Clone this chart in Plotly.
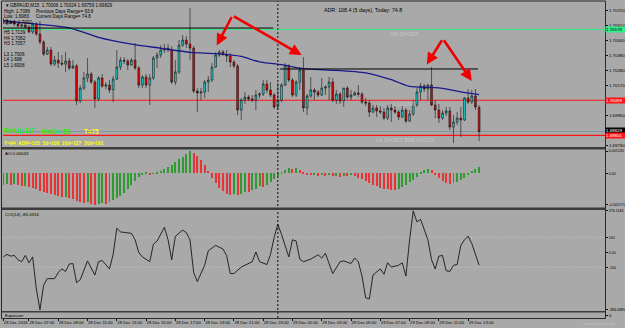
import plotly.graph_objects as go

W, H = 625, 328


def px(x):
    return x / W


def py(y):
    return 1 - y / H


# ---------------- data ----------------
bar_index = list(range(131))

open_ = [1.70632, 1.70647, 1.70625, 1.70639, 1.70617, 1.70603, 1.70610, 1.70595, 1.70559, 1.70617,
         1.70544, 1.70485, 1.70397, 1.70427, 1.70324, 1.70353, 1.70331, 1.70324, 1.70346, 1.70295,
         1.70310, 1.70053, 1.70148, 1.70222, 1.70251, 1.70192, 1.70068, 1.70222, 1.70163, 1.70170,
         1.70134, 1.70214, 1.70302, 1.70353, 1.70346, 1.70317, 1.70353, 1.70295, 1.70170, 1.70229,
         1.70170, 1.70222, 1.70368, 1.70390, 1.70427, 1.70441, 1.70427, 1.70192, 1.70266, 1.70463,
         1.70500, 1.70471, 1.70441, 1.70126, 1.70112, 1.70119, 1.70192, 1.70207, 1.70302, 1.70390,
         1.70412, 1.70397, 1.70383, 1.70339, 1.70310, 1.69987, 1.70060, 1.70082, 1.70068, 1.70060,
         1.70097, 1.70104, 1.70178, 1.70134, 1.70097, 1.70009, 1.70060, 1.70170, 1.70310, 1.70207,
         1.70097, 1.70192, 1.70280, 1.70002, 1.70090, 1.70134, 1.70119, 1.70097, 1.70148, 1.70156,
         1.70192, 1.70060, 1.70104, 1.70053, 1.70148, 1.70082, 1.70097, 1.70112, 1.70104, 1.70046,
         1.70038, 1.69972, 1.70002, 1.69980, 1.69972, 1.69928, 1.70002, 1.69987, 1.69972, 1.69936,
         1.69987, 1.69906, 1.69958, 1.70024, 1.70119, 1.70163, 1.70141, 1.70170, 1.70024, 1.69987,
         1.69928, 1.69965, 1.69980, 1.69862, 1.69899, 1.69928, 1.69914, 1.70075, 1.70046, 1.70090,
         1.70006]
close = [1.70647, 1.70625, 1.70639, 1.70617, 1.70603, 1.70610, 1.70595, 1.70559, 1.70617, 1.70544,
         1.70485, 1.70397, 1.70427, 1.70324, 1.70353, 1.70331, 1.70324, 1.70346, 1.70295, 1.70310,
         1.70053, 1.70148, 1.70222, 1.70251, 1.70192, 1.70068, 1.70222, 1.70163, 1.70170, 1.70134,
         1.70214, 1.70302, 1.70353, 1.70346, 1.70317, 1.70353, 1.70295, 1.70170, 1.70229, 1.70170,
         1.70222, 1.70368, 1.70390, 1.70427, 1.70441, 1.70427, 1.70192, 1.70266, 1.70463, 1.70500,
         1.70471, 1.70441, 1.70126, 1.70112, 1.70119, 1.70192, 1.70207, 1.70302, 1.70390, 1.70412,
         1.70397, 1.70383, 1.70339, 1.70310, 1.69987, 1.70060, 1.70082, 1.70068, 1.70060, 1.70097,
         1.70104, 1.70178, 1.70134, 1.70097, 1.70009, 1.70060, 1.70170, 1.70310, 1.70207, 1.70097,
         1.70192, 1.70280, 1.70002, 1.70090, 1.70134, 1.70119, 1.70097, 1.70148, 1.70156, 1.70192,
         1.70060, 1.70104, 1.70053, 1.70148, 1.70082, 1.70097, 1.70112, 1.70104, 1.70046, 1.70038,
         1.69972, 1.70002, 1.69980, 1.69972, 1.69928, 1.70002, 1.69987, 1.69972, 1.69936, 1.69987,
         1.69906, 1.69958, 1.70024, 1.70119, 1.70163, 1.70141, 1.70170, 1.70024, 1.69987, 1.69928,
         1.69965, 1.69980, 1.69862, 1.69899, 1.69928, 1.69914, 1.70075, 1.70046, 1.70090, 1.70009,
         1.69829]
high = [1.70661, 1.70654, 1.70647, 1.70647, 1.70632, 1.70617, 1.70625, 1.70610, 1.70632, 1.70632,
        1.70639, 1.70500, 1.70449, 1.70449, 1.70383, 1.70412, 1.70390, 1.70412, 1.70368, 1.70353,
        1.70324, 1.70170, 1.70266, 1.70368, 1.70266, 1.70207, 1.70236, 1.70251, 1.70192, 1.70207,
        1.70236, 1.70427, 1.70375, 1.70375, 1.70361, 1.70368, 1.70478, 1.70310, 1.70244, 1.70251,
        1.70251, 1.70383, 1.70412, 1.70463, 1.70471, 1.70471, 1.70456, 1.70353, 1.70500, 1.70537,
        1.70529, 1.70735, 1.70456, 1.70148, 1.70148, 1.70207, 1.70236, 1.70331, 1.70412, 1.70427,
        1.70427, 1.70427, 1.70405, 1.70353, 1.70324, 1.70075, 1.70119, 1.70097, 1.70097, 1.70134,
        1.70119, 1.70207, 1.70207, 1.70192, 1.70112, 1.70185, 1.70185, 1.70331, 1.70324, 1.70222,
        1.70207, 1.70302, 1.70375, 1.70104, 1.70229, 1.70148, 1.70134, 1.70222, 1.70170, 1.70229,
        1.70222, 1.70134, 1.70119, 1.70148, 1.70163, 1.70134, 1.70126, 1.70170, 1.70119, 1.70075,
        1.70060, 1.70024, 1.70024, 1.70016, 1.70002, 1.70024, 1.70031, 1.70016, 1.69987, 1.70016,
        1.70002, 1.69987, 1.70060, 1.70148, 1.70185, 1.70178, 1.70178, 1.70302, 1.70060, 1.70031,
        1.69987, 1.70009, 1.70009, 1.69950, 1.69972, 1.70009, 1.70082, 1.70141, 1.70134, 1.70141,
        1.70024]
low = [1.70617, 1.70610, 1.70617, 1.70603, 1.70595, 1.70588, 1.70581, 1.70551, 1.70544, 1.70529,
       1.70471, 1.70383, 1.70390, 1.70310, 1.70310, 1.70295, 1.70310, 1.70266, 1.70280, 1.70288,
       1.70024, 1.70038, 1.70134, 1.70192, 1.70178, 1.70002, 1.70053, 1.70148, 1.70141, 1.70112,
       1.70046, 1.70207, 1.70280, 1.70324, 1.70280, 1.70310, 1.70280, 1.70148, 1.70148, 1.70148,
       1.70024, 1.70207, 1.70295, 1.70368, 1.70405, 1.70412, 1.70178, 1.70170, 1.70251, 1.70449,
       1.70441, 1.70353, 1.70112, 1.69972, 1.70060, 1.70075, 1.70119, 1.70192, 1.70295, 1.70375,
       1.70383, 1.70339, 1.70302, 1.70295, 1.69950, 1.69914, 1.70031, 1.70053, 1.70046, 1.69987,
       1.70075, 1.70090, 1.70112, 1.70082, 1.69994, 1.69987, 1.70046, 1.70163, 1.70192, 1.70082,
       1.70082, 1.70134, 1.69972, 1.69950, 1.70075, 1.70060, 1.70082, 1.70090, 1.70097, 1.70060,
       1.70046, 1.70031, 1.70031, 1.70009, 1.70068, 1.70060, 1.70090, 1.70082, 1.70031, 1.70016,
       1.69936, 1.69965, 1.69936, 1.69958, 1.69914, 1.69914, 1.69899, 1.69958, 1.69914, 1.69928,
       1.69892, 1.69899, 1.69943, 1.70009, 1.70060, 1.70119, 1.70060, 1.70016, 1.69928, 1.69892,
       1.69914, 1.69943, 1.69840, 1.69745, 1.69877, 1.69789, 1.69906, 1.70031, 1.70031, 1.69987,
       1.69759]

ma_index = [0, 8, 18, 26, 35, 43, 51, 58, 65, 70, 76, 82, 89, 99, 106, 111, 119, 125, 130]
ma_value = [1.7064, 1.7062, 1.7059, 1.7052, 1.7047, 1.7044, 1.7041, 1.7040, 1.7038, 1.7034,
            1.7032, 1.7029, 1.7028, 1.7026, 1.7021, 1.7016, 1.7015, 1.7012, 1.7010]

ao_value = [-0.00078, -0.00074, -0.00080, -0.00076, -0.00082, -0.00088, -0.00085, -0.00095, -0.00100, -0.00110,
            -0.00120, -0.00130, -0.00138, -0.00145, -0.00150, -0.00158, -0.00165, -0.00162, -0.00170, -0.00178,
            -0.00190, -0.00198, -0.00205, -0.00200, -0.00210, -0.00217, -0.00212, -0.00205, -0.00208, -0.00195,
            -0.00185, -0.00170, -0.00155, -0.00135, -0.00110, -0.00080, -0.00050, -0.00025, -0.00010, 0.00004,
            -0.00006, -0.00003, 0.00005, 0.00015, 0.00030, 0.00045, 0.00060, 0.00078, 0.00095, 0.00112,
            0.00130, 0.00153, 0.00140, 0.00118, 0.00090, 0.00055, 0.00015, -0.00030, -0.00070, -0.00100,
            -0.00125, -0.00140, -0.00150, -0.00145, -0.00152, -0.00140, -0.00128, -0.00132, -0.00118, -0.00105,
            -0.00090, -0.00095, -0.00080, -0.00060, -0.00040, -0.00018, 0.00010, 0.00025, 0.00035, 0.00030,
            0.00038, 0.00025, 0.00010, -0.00008, -0.00015, -0.00010, -0.00018, -0.00012, -0.00020, -0.00014,
            -0.00022, -0.00016, -0.00024, -0.00018, -0.00020, -0.00015, -0.00022, -0.00030, -0.00042, -0.00055,
            -0.00068, -0.00080, -0.00090, -0.00098, -0.00105, -0.00110, -0.00114, -0.00118, -0.00105, -0.00092,
            -0.00078, -0.00062, -0.00045, -0.00025, 0.00005, 0.00025, 0.00032, 0.00020, -0.00010, -0.00030,
            -0.00050, -0.00065, -0.00075, -0.00070, -0.00060, -0.00045, -0.00030, -0.00010, 0.00015, 0.00030,
            0.00043]

cci_index = [0, 1, 2, 3, 4, 5, 6, 7, 8, 9, 10, 11, 12,
             14, 15, 16, 17, 18, 19, 20, 21,
             23, 25, 26, 27, 29, 30, 31, 32,
             35, 36, 37, 38, 40, 41, 42,
             44, 45, 46, 47, 49, 50, 51, 52, 53,
             55, 56, 58, 60, 61, 62, 63,
             65, 66, 68, 69, 70, 72, 73, 74, 75, 76, 77, 78, 79, 80, 81, 82,
             84, 86, 87, 88, 89, 90, 92, 93, 95, 96, 97, 98, 99, 100, 101,
             103, 104, 105, 106, 108, 109, 110, 111, 112, 113, 114,
             116, 117, 118, 119, 120, 121, 122, 123, 124, 125, 126, 127, 128,
             130]
cci_value = [-31, -14, -26, -21, -50, -63, -21, -70, -31, -244, -384.0885, -220, -176,
             -176, -135, -111, -128, -79, -75, -203, -183,
             -58, -152, -63, -55, -111, -14, 160, 136,
             126, 83, -2, -31, -63, 54, 75,
             167, 83, -50, 107, 148, 131, 83, -135, -196,
             -87, 10, 46, 22, -21, -142, -142,
             -99, -87, -63, 2, -63, -82, -14, 99, 187, 119, 39, -31, 83, 75, -46, -63,
             -46, -17, -39, -7, -75, -142, -63, -58, -75, -38, -63, -159, -304, -312, -152,
             -111, -147, -70, -99, -87, -70, -159, 83, 276.1184, 203, 220,
             83, -50, -111, -26, -21, -123, -128, -87, -82, 46, 83, 107, 58,
             -86.0316]

time_tick_index = [0, 7, 15, 23, 31, 39, 47, 55, 63, 71, 79, 87, 95, 103, 111, 119, 127]
time_tick_label = ["28 Dec 2016", "28 Dec 07:00", "28 Dec 09:00", "28 Dec 11:00", "28 Dec 13:00",
                   "28 Dec 15:00", "28 Dec 17:00", "28 Dec 19:00", "28 Dec 21:00", "28 Dec 23:00",
                   "29 Dec 01:00", "29 Dec 03:00", "29 Dec 05:00", "29 Dec 07:00", "29 Dec 09:00",
                   "29 Dec 11:00", "29 Dec 13:00"]

# scale labels that stay visible (1.70060 and 1.69840 sit under the level boxes)
price_ticks = [1.69730, 1.69950, 1.70170, 1.70280, 1.70390, 1.70500, 1.70610, 1.70720]
ao_ticks = [0.00153, 0.0, -0.002171]
ao_tick_text = ["0.001530", "0.00", "-0.002171"]
cci_ticks = [276.1184, 100, 0, -100, -384.0885]
cci_tick_text = ["276.1184", "100", "0.00", "-100", "-384.0885"]

level_h3 = 1.70578
level_l3 = 1.70059
level_l4 = 1.69801
level_bid = 1.69829
black_level_1 = 1.70588
black_level_2 = 1.70288
separator_index = 75

# ---------------- styling ----------------
BG = "#a9a9a9"
FONT = "Liberation Sans"
x_range = [-0.1, 164.4]
x_dom = [px(3), px(605)]

fig = go.Figure()

fig.add_trace(go.Candlestick(
    x=bar_index, open=open_, high=high, low=low, close=close,
    increasing=dict(fillcolor="#1fd4d4", line=dict(color="#141414", width=0.6)),
    decreasing=dict(fillcolor="#f00000", line=dict(color="#141414", width=0.6)),
    whiskerwidth=0, xaxis="x", yaxis="y", hoverinfo="skip"))

fig.add_trace(go.Scatter(x=ma_index, y=ma_value, mode="lines",
                         line=dict(color="#1a1a8a", width=1.3, shape="spline", smoothing=0.6),
                         xaxis="x", yaxis="y", hoverinfo="skip"))

ao_colors = ["#2f9a2f"]
for k in range(1, len(ao_value)):
    ao_colors.append("#2f9a2f" if ao_value[k] > ao_value[k - 1] else "#e83434")
fig.add_trace(go.Bar(x=bar_index, y=ao_value, marker=dict(color=ao_colors, line=dict(width=0)),
                     width=0.27, xaxis="x2", yaxis="y2", hoverinfo="skip"))

fig.add_trace(go.Scatter(x=cci_index, y=cci_value, mode="lines",
                         line=dict(color="#161616", width=0.9),
                         xaxis="x3", yaxis="y3", hoverinfo="skip"))

fig.add_trace(go.Scatter(x=[0], y=[0], mode="markers", marker=dict(opacity=0),
                         xaxis="x4", yaxis="y4", hoverinfo="skip"))

tickfont = dict(family=FONT, size=4.4, color="#000000")
smallfont = dict(family=FONT, size=3.6, color="#000000")
xcommon = dict(range=x_range, domain=x_dom, showgrid=False, zeroline=False, automargin=False,
               showline=False, ticks="", showticklabels=False, fixedrange=True)
ycommon = dict(side="right", showgrid=False, zeroline=False, showline=False, automargin=False,
               ticks="outside", ticklen=2, tickcolor="#111111", tickwidth=1, fixedrange=True)

fig.update_layout(
    width=W, height=H, margin=dict(l=0, r=0, t=0, b=0, autoexpand=False),
    paper_bgcolor=BG, plot_bgcolor=BG, showlegend=False,
    font=dict(family=FONT, size=5, color="#000000"),
    bargap=0,
    xaxis=dict(**xcommon, anchor="y", rangeslider=dict(visible=False)),
    xaxis2=dict(**xcommon, anchor="y2", matches="x"),
    xaxis3=dict(**xcommon, anchor="y3", matches="x"),
    xaxis4=dict(range=x_range, domain=x_dom, showgrid=False, zeroline=False, showline=False,
                automargin=False, matches="x", anchor="y4", tickmode="array",
                tickvals=time_tick_index, ticktext=time_tick_label, tickangle=0,
                ticks="outside", ticklen=2, tickcolor="#111111",
                ticklabelposition="outside right",
                tickfont=dict(family=FONT, size=4.2, color="#000000"), fixedrange=True),
    yaxis=dict(**ycommon, anchor="x", domain=[py(147), py(2)], range=[1.69716, 1.70779],
               tickfont=tickfont, tickmode="array", tickvals=price_ticks,
               ticktext=[f"{v:.5f}" for v in price_ticks]),
    yaxis2=dict(**ycommon, anchor="x2", domain=[py(207), py(150)], range=[-0.00232, 0.00160],
                tickfont=smallfont, tickmode="array", tickvals=ao_ticks, ticktext=ao_tick_text),
    yaxis3=dict(**ycommon, anchor="x3", domain=[py(311), py(210)], range=[-392, 282],
                tickfont=smallfont, tickmode="array", tickvals=cci_ticks, ticktext=cci_tick_text),
    yaxis4=dict(**ycommon, anchor="x4", domain=[py(318), py(312)], range=[-1, 1],
                tickfont=tickfont, tickmode="array", tickvals=[0], ticktext=["0"]),
)

shapes = []
for lvl, col, w in [(level_h3, "#2fef86", 1), (level_l3, "#ff1414", 1.1),
                    (level_l4, "#ff1414", 1.1), (level_bid, "#8593a3", 1)]:
    shapes.append(dict(type="line", xref="paper", yref="y", x0=px(3), x1=px(605), y0=lvl, y1=lvl,
                       line=dict(color=col, width=w), layer="below"))
shapes.append(dict(type="line", xref="x", yref="y", x0=-0.1, x1=73.7, y0=black_level_1, y1=black_level_1,
                   line=dict(color="#000000", width=1)))
shapes.append(dict(type="line", xref="x", yref="y", x0=75.6, x1=129.7, y0=black_level_2, y1=black_level_2,
                   line=dict(color="#000000", width=1)))
for lv in (100, -100):
    shapes.append(dict(type="line", xref="paper", yref="y3", x0=px(3), x1=px(605), y0=lv, y1=lv,
                       line=dict(color="#c9c9c9", width=1, dash="1px,2px"), layer="below"))
shapes.append(dict(type="line", xref="x", yref="paper", x0=separator_index, x1=separator_index,
                   y0=py(318), y1=py(1), line=dict(color="#111111", width=1, dash="2px,2px")))
for y0, y1 in [(147, 149.5), (207.5, 210), (311, 312.5)]:
    shapes.append(dict(type="rect", xref="paper", yref="paper", x0=px(1.5), x1=px(605.5),
                       y0=py(y1), y1=py(y0), fillcolor="#3c3c3c", line=dict(width=0)))
shapes.append(dict(type="rect", xref="paper", yref="paper", x0=px(1.5), x1=px(605.5),
                   y0=py(318.5), y1=py(1), line=dict(color="#2a2a2a", width=1)))
fig.update_layout(shapes=shapes)

ann = []


def note(x, y, text, size=4.6, color="#000000", bold=False, anchor="left"):
    t = f"<b>{text}</b>" if bold else text
    ann.append(dict(x=px(x), y=py(y), xref="paper", yref="paper", text=t, showarrow=False,
                    xanchor=anchor, yanchor="middle",
                    font=dict(family=FONT, size=size, color=color)))


note(2.5, 5, "▼", size=4.5)
note(8, 5, "GBPAUD,M15  1.70006 1.70024 1.69759 1.69829")
note(2, 11, "High: 1.7086")
note(34, 11, "Previous Days Range= 93.8")
note(2, 16, "Low: 1.6983")
note(34, 16, "Current Days Range= 74.8")
note(2, 22, "Open: 1.7002")
note(2, 33, "H5 1.7139")
note(2, 38.5, "H4 1.7082")
note(2, 43.5, "H3 1.7057")
note(2, 54, "L3 1.7006")
note(2, 60, "L4 1.698")
note(2, 65.5, "L5 1.6938")
note(322, 10, "ADR: 108.4 (5 days), Today: 74.8", size=5.3)
note(405, 33.5, "H3 SHORT", size=5.5, color="#c6c6c6", anchor="center")
note(404, 104, "L3 LONG", size=5.3, color="#c6c6c6", anchor="center")
note(405, 139.5, "L4 SHORT BREAKOUT", size=5.5, color="#c6c6c6", anchor="center")
note(2, 131, "RmUp:117", size=6.3, color="#00ff00", bold=True)
note(40, 131, "RmDn:58", size=6.3, color="#00ff00", bold=True)
note(82, 131, "T=75", size=6.3, color="#ffff00", bold=True)
note(2, 144, "Y=94  ADR=125  5d=108  10d=127  20d=161", size=4.9, color="#ffff00", bold=True)
note(3, 153, "AO 0.00043", size=4.4)
note(3, 214, "CCI(14) -86.0316", size=4.4)
note(3, 315.5, "Exposure", size=4.4)
note(618, 323, "www.pixtick.com", size=4.4, color="#c4c4c4", anchor="right")

# price boxes on the right scale (vertical slots as MetaTrader stacks them)
for ypix, bg, fg, txt in [(29.5, "#2fef86", "#000000", "1.70578"),
                          (100, "#ff1414", "#ffffff", "1.70059"),
                          (130.5, "#000000", "#ffffff", "1.69829"),
                          (136, "#ff1414", "#ffffff", "1.69801")]:
    ann.append(dict(x=px(605), y=py(ypix), xref="paper", yref="paper", text=txt, showarrow=False,
                    xanchor="left", yanchor="middle", bgcolor=bg, borderpad=0, width=19, height=5,
                    align="left", font=dict(family=FONT, size=4.4, color=fg)))

# red arrows (drawn objects)
arrow_apex = [(62.6, 1.70680), (120.1, 1.70510)]
arrow_tips = [[(58.3, 1.70460), (81.5, 1.70390)], [(115.7, 1.70320), (128.0, 1.70200)]]
for (ax_, ay_), tips in zip(arrow_apex, arrow_tips):
    for (tx, ty) in tips:
        ann.append(dict(x=tx, y=ty, xref="x", yref="y", ax=ax_, ay=ay_, axref="x", ayref="y",
                        text="", showarrow=True, arrowhead=2, arrowsize=0.9, arrowwidth=2.6,
                        arrowcolor="#f00000", standoff=0, startstandoff=0))

fig.update_layout(annotations=ann)

fig.write_html("out.html")
